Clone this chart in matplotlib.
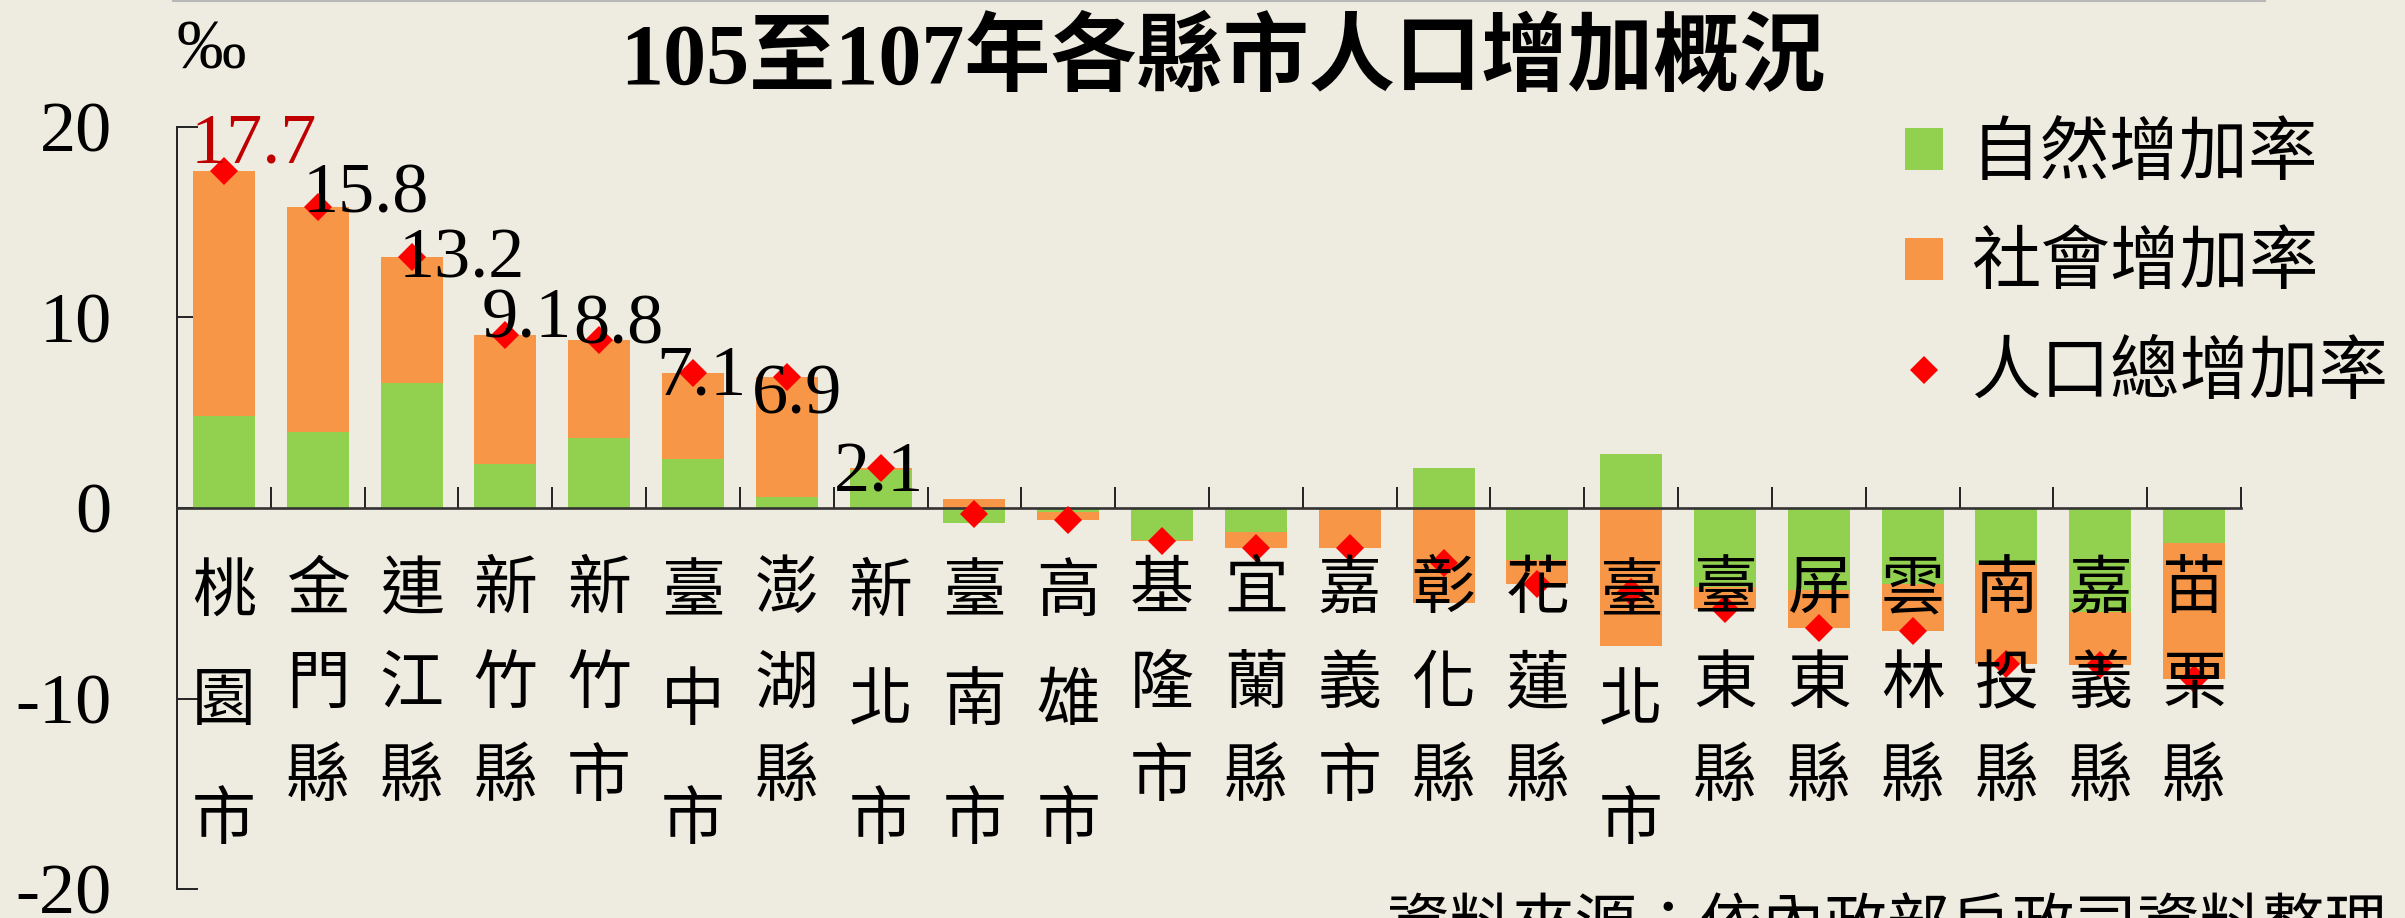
import numpy as np
import matplotlib
matplotlib.use("Agg")
import matplotlib.pyplot as plt
from matplotlib.lines import Line2D
from matplotlib.patches import Patch
import matplotlib.transforms as mtransforms

# 各縣市 (標籤直排)
counties = ['桃園市', '金門縣', '連江縣', '新竹縣', '新竹市', '臺中市', '澎湖縣', '新北市',
            '臺南市', '高雄市', '基隆市', '宜蘭縣', '嘉義市', '彰化縣', '花蓮縣', '臺北市',
            '臺東縣', '屏東縣', '雲林縣', '南投縣', '嘉義縣', '苗栗縣']
# 自然增加率 (‰)
natural = [4.85, 3.97, 6.56, 2.29, 3.67, 2.57, 0.58, 2.01, -0.79, -0.23, -1.66,
           -1.28, -0.13, 2.12, -2.73, 2.82, -4.13, -4.30, -4.00, -2.94, -5.47, -1.82]
# 社會增加率 (‰)
social = [12.85, 11.83, 6.64, 6.81, 5.13, 4.53, 6.32, 0.09, 0.46, -0.42, -0.07,
          -0.82, -1.99, -5.00, -1.24, -7.23, -1.17, -2.00, -2.48, -5.25, -2.76, -7.14]
# 人口總增加率 (‰)
total = [17.7, 15.8, 13.2, 9.1, 8.8, 7.1, 6.9, 2.1, -0.33, -0.65, -1.73,
         -2.10, -2.12, -2.88, -3.97, -4.41, -5.30, -6.30, -6.48, -8.19, -8.23, -8.96]
yticks = [-20, -10, 0, 10, 20]
municipal = {'桃園市', '臺中市', '新北市', '臺南市', '高雄市', '臺北市'}

# 數值標籤相對菱形的位移 (pixels), 只標正值
label_offsets = [(30, 26), (48, 12), (50, -3), (21, 15), (19, 14), (8, -4), (10, -19), (-2, -6)]

W, H = 2405, 918
bg = '#eeebe0'
green = '#92d050'
orange = '#f79646'
red = '#ff0000'
serif_cjk = ['Liberation Serif', 'Noto Sans CJK TC']
cjk = ['Noto Sans CJK TC', 'DejaVu Sans']

fig = plt.figure(figsize=(W / 100, H / 100), dpi=100, facecolor=bg)
ax = fig.add_axes([177 / W, 1 - 889 / H, (2241 - 177) / W, (889 - 127) / H])
ax.set_facecolor(bg)

x = np.arange(len(counties))
nat = np.array(natural)
soc = np.array(social)
soc_bottom = np.where(np.sign(soc) == np.sign(nat), nat, 0)

ax.bar(x, nat, width=0.66, color=green, zorder=2, label='自然增加率')
ax.bar(x, soc, bottom=soc_bottom, width=0.66, color=orange, zorder=2, label='社會增加率')
ax.plot(x, total, linestyle='none', marker='D', markersize=14, color=red,
        markeredgewidth=0, zorder=4, label='人口總增加率')

# 正值標示
k = 0
for i, v in enumerate(total):
    if v > 0:
        ax.annotate(f'{v:.1f}', (i, v), xytext=label_offsets[k], textcoords='offset pixels',
                    ha='center', va='center', fontsize=52, family='Liberation Serif',
                    color='#c00000' if i == 0 else 'black', zorder=5)
        k += 1

ax.set_xlim(-0.5, len(counties) - 0.5)
ax.set_ylim(-20, 20)
ax.set_yticks(yticks)
ax.set_yticklabels([str(t) for t in yticks], family='Liberation Serif', fontsize=52)
ax.set_xticks(np.arange(len(counties)) + 0.5)
ax.set_xticklabels([])
ax.tick_params(axis='y', direction='in', length=15, width=1.4, pad=47, colors='#222222',
               labelcolor='black')
ax.tick_params(axis='x', direction='in', length=15, width=1.4, colors='#222222')
for s in ['top', 'right']:
    ax.spines[s].set_visible(False)
ax.spines['bottom'].set_position(('data', 0))
ax.spines['bottom'].set_linewidth(1.9)
ax.spines['bottom'].set_color('#333333')
ax.spines['bottom'].set_zorder(3)
ax.spines['left'].set_linewidth(1.4)
ax.spines['left'].set_color('#222222')

# 直排縣市名稱
trans = mtransforms.blended_transform_factory(ax.transData, fig.transFigure)
for i, name in enumerate(counties):
    rows = [593, 702, 821] if name in municipal else [590, 685, 778]
    for ch, yy in zip(name, rows):
        ax.text(i, 1 - yy / H, ch, transform=trans, ha='center', va='center',
                fontsize=46, family=cjk, zorder=6, clip_on=False)

# 圖例
handles = [Patch(facecolor=green), Patch(facecolor=orange),
           Line2D([], [], linestyle='none', marker='D', markersize=14, color=red,
                  markeredgewidth=0)]
leg = fig.legend(handles, ['自然增加率', '社會增加率', '人口總增加率'],
                 loc='upper left', bbox_to_anchor=(1905 / W, 1 - 118 / H),
                 frameon=False, prop={'family': cjk, 'size': 50},
                 handlelength=0.55, handleheight=0.55, handletextpad=0.4,
                 labelspacing=0.55, borderpad=0, borderaxespad=0)

fig.text(1223 / W, 1 - 61 / H, '105至107年各縣市人口增加概況', ha='center', va='center',
         fontsize=62, fontweight='bold', family=serif_cjk)
fig.text(176 / W, 1 - 52 / H, '‰', ha='left', va='center', fontsize=50,
         family='Liberation Serif')
fig.text(1387 / W, 1 - 945 / H, '資料來源：依內政部戶政司資料整理', ha='left',
         va='baseline', fontsize=45, family=cjk)
fig.add_artist(Line2D([173 / W, 2265 / W], [1 - 1 / H, 1 - 1 / H], color='#b8b8b8',
                      linewidth=1.5))

fig.savefig('out.png', dpi=100, facecolor=bg)
